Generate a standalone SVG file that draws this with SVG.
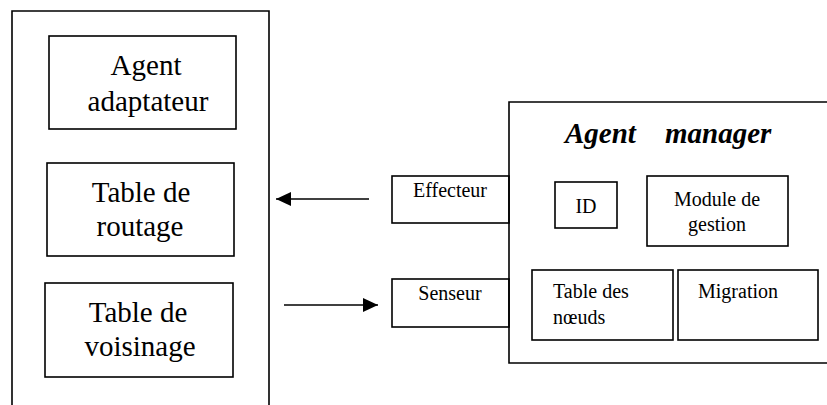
<svg xmlns="http://www.w3.org/2000/svg" width="827" height="405" viewBox="0 0 827 405">
  <defs>
    <marker id="ah" viewBox="0 0 15 14" refX="15" refY="7" markerWidth="15" markerHeight="14" markerUnits="userSpaceOnUse" orient="auto">
      <path d="M0,0 L15,7 L0,14 Z" fill="#000"/>
    </marker>
  </defs>
  <style>
    .box { fill: none; stroke: #000; stroke-width: 1.6; }
    text { font-family: 'Liberation Serif', 'DejaVu Serif', serif; fill: #000; }
    .big { font-size: 29px; text-anchor: middle; }
    .small { font-size: 20px; }
    .mid { text-anchor: middle; }
    .title { font-size: 29px; font-weight: bold; font-style: italic; }
    .conn { stroke: #000; stroke-width: 1.6; fill: none; }
  </style>
  <rect x="0" y="0" width="827" height="405" fill="#fff"/>

  <g id="left-container">
    <path class="box" d="M12,410 V11 H269 V410"/>
  </g>
  <g id="agent-adaptateur">
    <rect class="box" x="49" y="36" width="187" height="93"/>
    <text class="big" x="146" y="75" font-family="Liberation Serif">Agent</text>
    <text class="big" x="148" y="111" font-family="Liberation Serif">adaptateur</text>
  </g>
  <g id="table-routage">
    <rect class="box" x="47" y="163" width="187" height="93"/>
    <text class="big" x="141" y="202">Table de</text>
    <text class="big" x="140" y="236">routage</text>
  </g>
  <g id="table-voisinage">
    <rect class="box" x="45" y="283" width="188" height="94"/>
    <text class="big" x="138" y="322">Table de</text>
    <text class="big" x="140" y="356">voisinage</text>
  </g>

  <g id="agent-manager">
    <path class="box" d="M830,102 H509 V363 H830"/>
    <text class="title" x="565" y="143">Agent</text>
    <text class="title" x="665" y="143">manager</text>
  </g>
  <g id="effecteur">
    <rect class="box" x="392" y="176" width="117" height="47"/>
    <text class="small mid" x="450" y="197">Effecteur</text>
  </g>
  <g id="senseur">
    <rect class="box" x="392" y="279" width="117" height="48"/>
    <text class="small mid" x="450" y="300">Senseur</text>
  </g>
  <g id="id">
    <rect class="box" x="555" y="182" width="62" height="46"/>
    <text class="small mid" x="586" y="213">ID</text>
  </g>
  <g id="module-gestion">
    <rect class="box" x="647" y="176" width="141" height="70"/>
    <text class="small mid" x="717" y="206">Module de</text>
    <text class="small mid" x="717" y="231">gestion</text>
  </g>
  <g id="table-noeuds">
    <rect class="box" x="532" y="270" width="141" height="70"/>
    <text class="small" x="553" y="298">Table des</text>
    <text class="small" x="553" y="324">nœuds</text>
  </g>
  <g id="migration">
    <rect class="box" x="678" y="270" width="140" height="70"/>
    <text class="small" x="698" y="298">Migration</text>
  </g>

  <g id="connectors">
    <line class="conn" x1="369" y1="199" x2="276" y2="199" marker-end="url(#ah)"/>
    <line class="conn" x1="284" y1="305" x2="378" y2="305" marker-end="url(#ah)"/>
  </g>
</svg>
